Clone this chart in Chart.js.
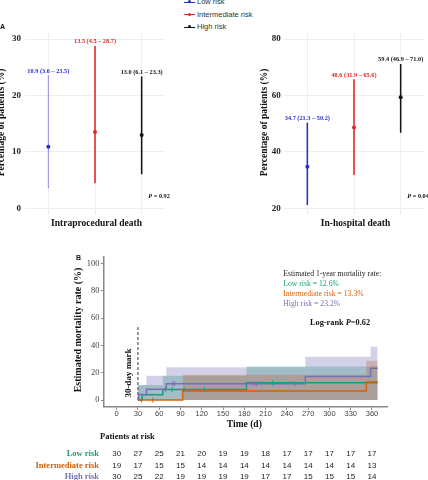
<!DOCTYPE html>
<html>
<head>
<meta charset="utf-8">
<script src="https://cdn.jsdelivr.net/npm/chart.js@4.4.0/dist/chart.umd.min.js"></script>
<style>
    html, body { margin: 0; padding: 0; background: #fff; }
    #page { position: relative; width: 428px; height: 480px; overflow: hidden; }
    #page canvas { position: absolute; }
    #legend { position: absolute; left: 184px; top: 0; font: 7.5px "Liberation Sans", Arial, sans-serif; color: #333; }
    .leg-row { position: absolute; left: 0; height: 10px; line-height: 10px; white-space: nowrap; }
    .leg-mark { position: absolute; left: 0; top: 4.5px; width: 11px; height: 1px; }
    .leg-dot { position: absolute; left: 4px; top: -1.5px; width: 3px; height: 3px; border-radius: 50%; }
    .leg-text { position: absolute; left: 13px; top: 0; }
</style>
</head>
<body>
<div id="page">
    <div id="legend"></div>
    <canvas id="intra" width="214" height="240" style="left:0;top:0"></canvas>
    <canvas id="hosp" width="214" height="240" style="left:214px;top:0"></canvas>
    <canvas id="km" width="428" height="230" style="left:0;top:250px"></canvas>
</div>
<script>
// ---- Данные: панель A ----
const groups = ['Low risk', 'Intermediate risk', 'High risk'];
const intraEst = [10.9, 13.5, 13.0];
const intraLow = [3.6, 4.5, 6.1];
const intraHigh = [23.5, 28.7, 23.3];
const hospEst = [34.7, 48.6, 59.4];
const hospLow = [21.3, 31.9, 46.9];
const hospHigh = [50.2, 65.6, 71.0];
const intraTicks = [0, 10, 20, 30];
const hospTicks = [20, 40, 60, 80];
const pValues = ['0.92', '0.04'];

// ---- Данные: панель B (кривые Каплана-Мейера, % смертности) ----
const timeTicks = [0, 30, 60, 90, 120, 150, 180, 210, 240, 270, 300, 330, 360];
const rateTicks = [0, 20, 40, 60, 80, 100];
const lowDays = [30, 36, 65, 183, 368];
const lowRate = [0, 3.8, 7.8, 12.6, 12.6];
const midDays = [30, 93, 352, 368];
const midRate = [0, 6.7, 13.3, 13.3];
const highDays = [30, 31, 42, 70, 266, 358, 368];
const highRate = [0, 4, 8, 12, 17.3, 23.2, 23.2];
const lowBandDays = [30, 65, 183, 368];
const lowBandUpper = [11, 17.8, 24.6, 24.6];
const midBandDays = [93, 352, 368];
const midBandUpper = [18.5, 28.8, 28.8];
const highBandDays = [30, 42, 70, 266, 358, 368];
const highBandUpper = [10.8, 17.8, 24, 31.7, 39, 39];
const lowCensor = [69, 78, 95, 124, 220];
const midCensor = [35, 51];
const highCensor = [79, 82, 194, 197, 251];
const markDays = [30, 30];
const markRate = [0, 55];
const oneYearRate = [12.6, 13.3, 23.2];
const logRankP = '0.62';
const riskLow = [30, 27, 25, 21, 20, 19, 19, 18, 17, 17, 17, 17, 17];
const riskMid = [19, 17, 15, 15, 14, 14, 14, 14, 14, 14, 14, 14, 13];
const riskHigh = [30, 25, 22, 19, 19, 19, 19, 17, 17, 15, 15, 15, 14];

const SERIF = '"Liberation Serif", "Times New Roman", serif';
const SANS = '"Liberation Sans", Arial, sans-serif';
const aColors = ['#2b2bd6', '#e52525', '#151515'];
const kmColors = ['#1b9e77', '#d95f02', '#7570b3'];
const kmFills = ['rgba(27,158,119,0.32)', 'rgba(217,95,2,0.32)', 'rgba(117,112,179,0.32)'];

// Легенда
const legend = document.getElementById('legend');
groups.forEach((g, i) => {
    const row = document.createElement('div');
    row.className = 'leg-row';
    row.style.top = (i * 12.5 - 3) + 'px';
    row.innerHTML = `<div class="leg-mark" style="background:${aColors[i]}"><div class="leg-dot" style="background:${aColors[i]}"></div></div><div class="leg-text">${g}</div>`;
    legend.appendChild(row);
});

function rotatedText(ctx, text, x, y, font, color) {
    ctx.save();
    ctx.translate(x, y);
    ctx.rotate(-Math.PI / 2);
    ctx.font = font;
    ctx.fillStyle = color;
    ctx.textAlign = 'center';
    ctx.textBaseline = 'alphabetic';
    ctx.fillText(text, 0, 0);
    ctx.restore();
}

function drawP(ctx, value, x, y) {
    ctx.textAlign = 'left';
    ctx.textBaseline = 'middle';
    ctx.fillStyle = '#111';
    ctx.font = 'italic bold 6.3px ' + SERIF;
    ctx.fillText('P', x, y);
    const w = ctx.measureText('P').width;
    ctx.font = 'bold 6.3px ' + SERIF;
    ctx.fillText(' = ' + value, x + w, y);
}

function makeErrorChart(canvasId, est, lo, hi, ticks, yMin, yMax, cfg) {
    const panelText = {
        id: 'panelText',
        afterDraw(chart) {
            const { ctx, scales: { x, y } } = chart;
            ctx.save();
            ctx.font = 'bold 6.3px ' + SERIF;
            ctx.textAlign = 'center';
            ctx.textBaseline = 'alphabetic';
            est.forEach((v, i) => {
                ctx.fillStyle = aColors[i];
                const txt = `${v.toFixed(1)} (${lo[i].toFixed(1)} – ${hi[i].toFixed(1)})`;
                ctx.fillText(txt, x.getPixelForValue(i), y.getPixelForValue(hi[i]) - 3);
            });
            drawP(ctx, cfg.p, cfg.pX, 196);
            ctx.font = 'bold 9.5px ' + SERIF;
            ctx.fillStyle = '#111';
            ctx.textAlign = 'center';
            ctx.textBaseline = 'middle';
            ctx.fillText(cfg.title, (x.left + x.right) / 2 + 1.5, 224);
            rotatedText(ctx, 'Percentage of patients (%)', cfg.yTitleX, 122.5, 'bold 9.5px ' + SERIF, '#111');
            if (cfg.tag) {
                ctx.font = 'bold 7px ' + SANS;
                ctx.fillStyle = '#111';
                ctx.textAlign = 'left';
                ctx.fillText(cfg.tag, 0, 27);
            }
            ctx.restore();
        }
    };

    new Chart(document.getElementById(canvasId), {
        data: {
            labels: groups,
            datasets: [
                {
                    type: 'line',
                    data: est,
                    showLine: false,
                    pointRadius: 2,
                    pointBorderWidth: 0,
                    pointBackgroundColor: aColors
                },
                {
                    type: 'bar',
                    data: lo.map((v, i) => [v, hi[i]]),
                    backgroundColor: cfg.barColors,
                    borderColor: cfg.barColors,
                    borderWidth: cfg.barBorder,
                    borderSkipped: false,
                    barThickness: 0.9
                }
            ]
        },
        options: {
            responsive: false,
            animation: false,
            layout: { padding: { left: 0, right: cfg.padRight, top: 33.4, bottom: 0 } },
            plugins: { legend: { display: false }, tooltip: { enabled: false } },
            scales: {
                x: {
                    grid: { offset: false, color: '#e6e6e6', lineWidth: 0.7, drawTicks: false },
                    ticks: { display: false },
                    border: { display: false },
                    afterFit: s => { s.height = 26.1; }
                },
                y: {
                    min: yMin,
                    max: yMax,
                    afterBuildTicks: s => { s.ticks = ticks.map(v => ({ value: v })); },
                    grid: { color: '#e6e6e6', lineWidth: 0.7, drawTicks: false },
                    border: { display: false },
                    ticks: { font: { family: SERIF, size: 9, weight: 'bold' }, color: '#222', padding: cfg.tickPad },
                    afterFit: s => { s.width = cfg.axisWidth; }
                }
            }
        },
        plugins: [panelText]
    });
}

makeErrorChart('intra', intraEst, intraLow, intraHigh, intraTicks, -1, 31, {
    p: pValues[0], pX: 148.3, title: 'Intraprocedural death', yTitleX: 4, tag: 'A',
    padRight: 49, axisWidth: 25, tickPad: 4,
    barColors: ['rgba(43,43,214,0.45)', aColors[1], aColors[2]], barBorder: [0.5, 0, 0]
});
makeErrorChart('hosp', hospEst, hospLow, hospHigh, hospTicks, 18, 82, {
    p: pValues[1], pX: 193.3, title: 'In-hospital death', yTitleX: 53.3, tag: null,
    padRight: 3, axisWidth: 70, tickPad: 3.3,
    barColors: aColors, barBorder: 0
});

// ---- Панель B ----
function stepValue(days, rates, t) {
    let v = rates[0];
    days.forEach((d, i) => { if (d <= t) v = rates[i]; });
    return v;
}
const pts = (days, vals) => days.map((d, i) => ({ x: d, y: vals[i] }));

const curveDays = [lowDays, midDays, highDays];
const curveRates = [lowRate, midRate, highRate];
const censorDays = [lowCensor, midCensor, highCensor];
const bandDays = [lowBandDays, midBandDays, highBandDays];
const bandUpper = [lowBandUpper, midBandUpper, highBandUpper];
const riskRows = [riskLow, riskMid, riskHigh];

// в Chart.js 'before' = сначала горизонталь, потом ступенька
const censorSets = [2, 1, 0].map(g => ({
    data: censorDays[g].map(d => ({ x: d, y: stepValue(curveDays[g], curveRates[g], d) })),
    showLine: false,
    pointStyle: 'line',
    rotation: 90,
    pointRadius: 2.5,
    pointBorderWidth: 1,
    pointBorderColor: kmColors[g]
}));
const curveSets = [2, 1, 0].map(g => ({
    data: pts(curveDays[g], curveRates[g]),
    stepped: 'before',
    borderColor: kmColors[g],
    borderWidth: 1.5,
    pointRadius: 0,
    fill: false
}));
const bandSets = [2, 1, 0].map(g => ({
    data: pts(bandDays[g], bandUpper[g]),
    stepped: 'before',
    borderWidth: 0,
    borderColor: 'transparent',
    backgroundColor: kmFills[g],
    pointRadius: 0,
    fill: 'origin'
}));
const markSet = {
    data: pts(markDays, markRate),
    borderColor: '#333',
    borderWidth: 1,
    borderDash: [3, 2],
    pointRadius: 0,
    fill: false
};

const kmText = {
    id: 'kmText',
    afterDraw(chart) {
        const { ctx, scales: { x } } = chart;
        ctx.save();
        ctx.font = 'bold 7px ' + SANS;
        ctx.fillStyle = '#111';
        ctx.textBaseline = 'middle';
        ctx.fillText('B', 76, 8.5);

        rotatedText(ctx, 'Estimated mortality rate (%)', 81, 80, 'bold 10px ' + SERIF, '#111');
        rotatedText(ctx, '30-day mark', 131.3, 123, 'bold 9px ' + SERIF, '#111');

        ctx.textAlign = 'left';
        ctx.textBaseline = 'middle';
        ctx.font = '7.7px ' + SERIF;
        ctx.fillStyle = '#222';
        ctx.fillText('Estimated 1-year mortality rate:', 283.3, 24);
        groups.forEach((g, i) => {
            ctx.fillStyle = kmColors[i];
            ctx.fillText(`${g} = ${oneYearRate[i].toFixed(1)}%`, 283.3, 34.3 + i * 9.9);
        });

        ctx.fillStyle = '#111';
        ctx.font = 'bold 8.3px ' + SERIF;
        let lx = 310;
        ctx.fillText('Log-rank ', lx, 72.7);
        lx += ctx.measureText('Log-rank ').width;
        ctx.font = 'italic bold 8.3px ' + SERIF;
        ctx.fillText('P', lx, 72.7);
        lx += ctx.measureText('P').width;
        ctx.font = 'bold 8.3px ' + SERIF;
        ctx.fillText('=' + logRankP, lx, 72.7);

        ctx.textAlign = 'center';
        ctx.font = 'bold 9.5px ' + SERIF;
        ctx.fillText('Time (d)', x.getPixelForValue(180), 175);

        // Таблица "Patients at risk"
        ctx.textAlign = 'left';
        ctx.font = 'bold 8.5px ' + SERIF;
        ctx.fillText('Patients at risk', 100, 187);
        const rowY = [203.3, 215.3, 226.7];
        riskRows.forEach((row, g) => {
            ctx.textAlign = 'right';
            ctx.font = 'bold 8.5px ' + SERIF;
            ctx.fillStyle = kmColors[g];
            ctx.fillText(groups[g], 99, rowY[g]);
            ctx.textAlign = 'center';
            ctx.font = '8px ' + SANS;
            ctx.fillStyle = '#222';
            row.forEach((n, i) => ctx.fillText(String(n), x.getPixelForValue(timeTicks[i]), rowY[g]));
        });
        ctx.restore();
    }
};

new Chart(document.getElementById('km'), {
    type: 'line',
    data: { datasets: [...censorSets, ...curveSets, markSet, ...bandSets] },
    options: {
        responsive: false,
        animation: false,
        layout: { padding: { left: 0, right: 40.4, top: 4.8, bottom: 0 } },
        plugins: { legend: { display: false }, tooltip: { enabled: false } },
        scales: {
            x: {
                type: 'linear',
                min: -18,
                max: 382,
                afterBuildTicks: s => { s.ticks = timeTicks.map(v => ({ value: v })); },
                ticks: { font: { family: SANS, size: 7.5 }, color: '#444', padding: 0, autoSkip: false, maxRotation: 0 },
                grid: { drawOnChartArea: false, tickLength: 3, color: '#888' },
                border: { color: '#888', width: 1.5 },
                afterFit: s => { s.height = 73.1; }
            },
            y: {
                min: -5,
                max: 105,
                afterBuildTicks: s => { s.ticks = rateTicks.map(v => ({ value: v })); },
                ticks: { font: { family: SERIF, size: 8.4 }, color: '#444', padding: 1.5 },
                grid: { drawOnChartArea: false, tickLength: 3, color: '#888' },
                border: { color: '#888', width: 1.5 },
                afterFit: s => { s.width = 103.9; }
            }
        }
    },
    plugins: [kmText]
});
</script>
</body>
</html>
